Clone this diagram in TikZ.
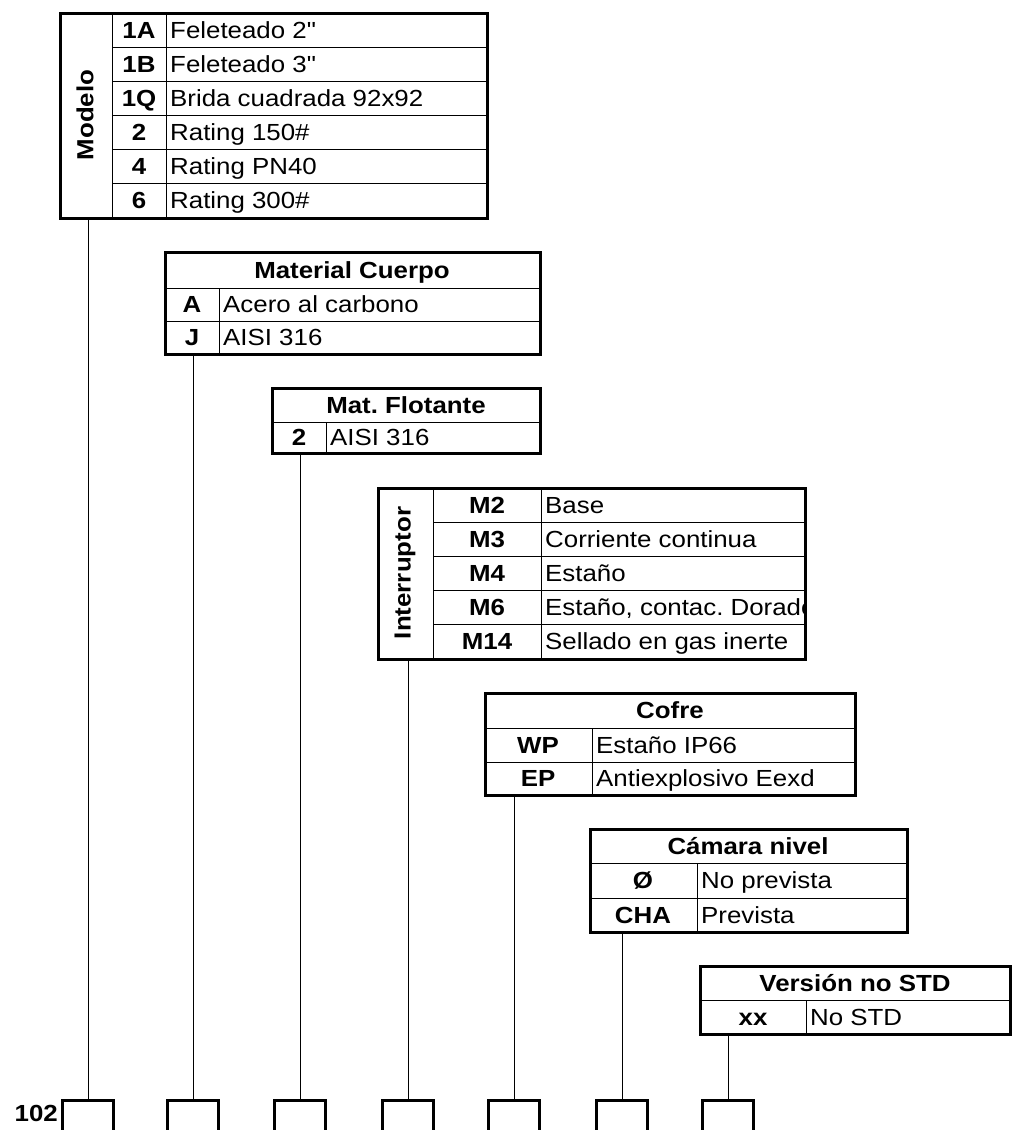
\documentclass[tikz,border=0pt]{standalone}
\usepackage{fontspec}
\setmainfont{Liberation Sans}[FakeStretch=1.11]
\usetikzlibrary{positioning}
\newcommand\tabfont{\fontsize{23.3}{26}\selectfont}
\frenchspacing

\tikzset{
  frame/.style={line width=3pt},
  grid/.style={line width=1pt},
  conn/.style={line width=1pt},
  slot/.style={draw, line width=3pt, minimum width=51pt, minimum height=42pt, inner sep=0pt},
  code/.style={anchor=base, inner sep=0pt, font=\tabfont\bfseries},
  desc/.style={anchor=base west, inner sep=0pt, font=\tabfont},
  head/.style={anchor=base, inner sep=0pt, font=\tabfont\bfseries},
  side/.style={rotate=90, inner sep=0pt, font=\tabfont\bfseries}
}

\begin{document}
\begin{tikzpicture}[x=1pt, y=-1pt]
  \useasboundingbox (0,0) rectangle (1012,1130);

  % Modelo
  \draw[grid] (112,13) -- (112,218);
  \draw[grid] (166,13) -- (166,218);
  \foreach \i in {1,...,5}
    \draw[grid] (112,13+34.17*\i) -- (487,13+34.17*\i);
  \draw[frame] (60,13) rectangle (487,218);
  \node[side] (modelo) at (85,115) {Modelo};
  \foreach \c/\d [count=\i from 0] in {1A/Feleteado 2\textquotedbl, 1B/Feleteado 3\textquotedbl, 1Q/Brida cuadrada 92x92, 2/Rating 150\#, 4/Rating PN40, 6/Rating 300\#}{
    \node[code] (mc\i) at (139,38+34.17*\i) {\c};
    \node[desc] (md\i) at (170,38+34.17*\i) {\d};
  }

  % Material Cuerpo
  \draw[grid] (165,288) -- (540,288);
  \draw[grid] (165,321) -- (540,321);
  \draw[grid] (219,288) -- (219,354);
  \draw[frame] (165,252) rectangle (540,354);
  \node[head] (cuerpo) at (352,278) {Material Cuerpo};
  \node[code] (cc0) at (192,312.5) {A};
  \node[desc] (cd0) at (223,312.5) {Acero al carbono};
  \node[code] (cc1) at (192,345.5) {J};
  \node[desc] (cd1) at (223,345.5) {AISI 316};

  % Mat. Flotante
  \draw[grid] (272,422) -- (540,422);
  \draw[grid] (326,422) -- (326,453);
  \draw[frame] (272,388) rectangle (540,453);
  \node[head] (flot) at (406,413) {Mat. Flotante};
  \node[code] (fc0) at (299,445.5) {2};
  \node[desc] (fd0) at (330,445.5) {AISI 316};

  % Interruptor
  \draw[grid] (433,488) -- (433,659);
  \draw[grid] (541,488) -- (541,659);
  \foreach \i in {1,...,4}
    \draw[grid] (433,488+34.2*\i) -- (805,488+34.2*\i);
  \node[side] (inter) at (405,573) {Interruptor};
  \foreach \c [count=\i from 0] in {M2, M3, M4, M6, M14}
    \node[code] (ic\i) at (487,513+34.2*\i) {\c};
  \begin{scope}
    \clip (541,488) rectangle (805,659);
    \foreach \d [count=\i from 0] in {Base, Corriente continua, Estaño, {Estaño, contac. Dorados}, Sellado en gas inerte}
      \node[desc] (id\i) at (545,513+34.2*\i) {\d};
  \end{scope}
  \draw[frame] (378,488) rectangle (805,659);

  % Cofre
  \draw[grid] (485,728) -- (855,728);
  \draw[grid] (485,762) -- (855,762);
  \draw[grid] (592,728) -- (592,795);
  \draw[frame] (485,693) rectangle (855,795);
  \node[head] (cofre) at (670,718.5) {Cofre};
  \node[code] (oc0) at (538,753) {WP};
  \node[desc] (od0) at (596,753) {Estaño IP66};
  \node[code] (oc1) at (538,786.5) {EP};
  \node[desc] (od1) at (596,786.5) {Antiexplosivo Eexd};

  % Camara nivel
  \draw[grid] (590,863) -- (907,863);
  \draw[grid] (590,898) -- (907,898);
  \draw[grid] (697,863) -- (697,932);
  \draw[frame] (590,829) rectangle (907,932);
  \node[head] (camara) at (748,854) {Cámara nivel};
  \node[code] (kc0) at (643,888.5) {Ø};
  \node[desc] (kd0) at (701,888.5) {No prevista};
  \node[code] (kc1) at (643,923) {CHA};
  \node[desc] (kd1) at (701,923) {Prevista};

  % Version no STD
  \draw[grid] (700,1000) -- (1010,1000);
  \draw[grid] (806,1000) -- (806,1034);
  \draw[frame] (700,966) rectangle (1010,1034);
  \node[head] (version) at (855,991) {Versión no STD};
  \node[code] (vc0) at (753,1025) {xx};
  \node[desc] (vd0) at (810,1025) {No STD};

  % code slots
  \node[font=\tabfont\bfseries, anchor=base east, inner sep=0pt] (pref) at (58,1121) {102};
  \foreach \x [count=\i] in {88,193,300,408,514,622,728}
    \node[slot] (s\i) at (\x,1121) {};

  \coordinate (t1) at (88,218);
  \coordinate (t2) at (193,354);
  \coordinate (t3) at (300,453);
  \coordinate (t4) at (408,659);
  \coordinate (t5) at (514,795);
  \coordinate (t6) at (622,932);
  \coordinate (t7) at (728,1034);
  \foreach \i in {1,...,7}
    \draw[conn] (t\i) -- (s\i.north);
\end{tikzpicture}
\end{document}
